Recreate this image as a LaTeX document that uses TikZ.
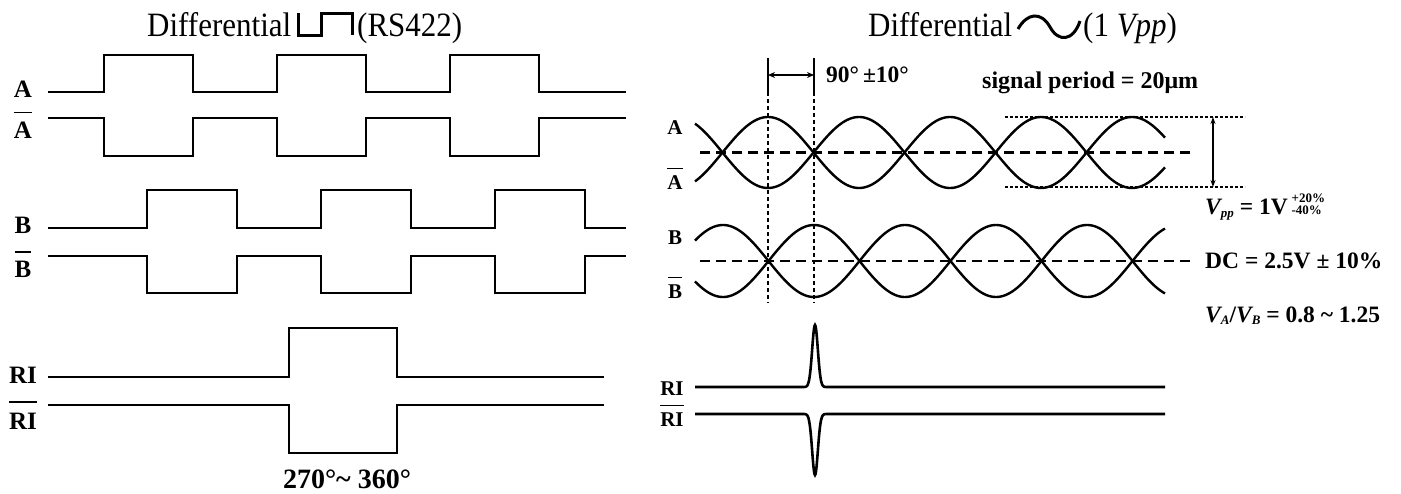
\documentclass[tikz,border=0pt]{standalone}
\usepackage{fontspec}
\setmainfont{Liberation Serif}
\usetikzlibrary{arrows.meta}
\newcommand\myfs[1]{\fontsize{#1}{#1}\selectfont}
\newcommand\ovl[2][8pt]{\vbox{\hrule height 1.6pt\kern#1\hbox{#2}}}
\begin{document}
\begin{tikzpicture}[x=1pt,y=-1pt,
  wave/.style={line width=2.7pt, line join=miter},
  sine/.style={line width=2.4pt},
  lbl/.style={font=\myfs{25}\bfseries, anchor=base, inner sep=0pt},
  rlbl/.style={font=\myfs{21}\bfseries, anchor=base, inner sep=0pt},
  ann/.style={font=\myfs{23.5}\bfseries, anchor=base west, inner sep=0pt},
  ttl/.style={font=\myfs{31}, anchor=base west, inner sep=0pt},
  midd/.style={line width=2.2pt, dash pattern=on 10pt off 6pt},
  hdots/.style={line width=2pt, dash pattern=on 2.5pt off 2.5pt},
  vdots/.style={line width=1.8pt, dash pattern=on 4pt off 3pt},
  thin/.style={line width=1.3pt},
  dim/.style={line width=1.5pt, {Stealth[length=7pt,width=6pt]}-{Stealth[length=7pt,width=6pt]}},
  ]
\useasboundingbox (0,0) rectangle (1401,493);
% ---------- titles ----------
\node[ttl] (tl1) at (147,36) {\scalebox{1}[1.1]{Differential}};
\draw[line width=3pt] (298,13) -- (298,35) -- (321,35) -- (321,13) -- (352,13) -- (352,35);
\node[ttl] (tl2) at (357,36) {\scalebox{1}[1.1]{(RS422)}};
\node[ttl] (tr1) at (868,36) {\scalebox{1}[1.1]{Differential}};
\draw[line width=3pt] (1018,29) .. controls (1027,13) and (1041,11) .. (1050,27)
  .. controls (1058,42) and (1073,42) .. (1080,21);
\node[ttl] (tr2) at (1083,36) {\scalebox{1}[1.1]{(1 \textit{Vpp})}};
% ---------- left labels ----------
\node[lbl] (lA)  at (23,97)  {A};
\node[lbl] (lAb) at (23,138) {\ovl{A}};
\node[lbl] (lB)  at (23,233) {B};
\node[lbl] (lBb) at (23,277) {\ovl{B}};
\node[lbl] (lR)  at (23,383) {RI};
\node[lbl] (lRb) at (23,429) {\ovl[10pt]{RI}};
% ---------- left waveforms ----------
\draw[wave] (48,92) -| (104,55) -| (193,92) -| (277,55) -| (366,92) -| (450,55) -| (539,92) -- (626,92);
\draw[wave] (48,118) -| (104,156) -| (193,118) -| (277,156) -| (366,118) -| (450,156) -| (539,118) -- (626,118);
\draw[wave] (48,228) -| (147,190) -| (237,228) -| (321,190) -| (411,228) -| (495,190) -| (585,228) -- (626,228);
\draw[wave] (48,256) -| (147,293) -| (237,256) -| (321,293) -| (411,256) -| (495,293) -| (585,256) -- (626,256);
\draw[wave] (48,377) -| (289,328) -| (397,377) -- (604,377);
\draw[wave] (48,405) -| (289,453) -| (397,405) -- (604,405);
\node[font=\myfs{28}\bfseries, anchor=base, inner sep=0pt] (tdeg) at (347,488) {270°\textasciitilde{} 360°};
% ---------- right labels ----------
\node[rlbl] (rA)  at (675,134) {A};
\node[rlbl] (rAb) at (675,189) {\ovl[6pt]{A}};
\node[rlbl] (rB)  at (675,244) {B};
\node[rlbl] (rBb) at (675,298) {\ovl[6pt]{B}};
\node[rlbl] (rR)  at (672,395) {RI};
\node[rlbl] (rRb) at (672,426) {\ovl[6pt]{RI}};
% ---------- dimension lines ----------
\coordinate (v1t) at (768,58);
\coordinate (v1m) at (768,92);
\coordinate (v1b) at (768,303);
\coordinate (v2t) at (814,58);
\coordinate (v2m) at (814,92);
\coordinate (v2b) at (814,303);
\draw[thin] (v1t) -- (v1m);
\draw[thin] (v2t) -- (v2m);
\draw[vdots] (v1m) -- (v1b);
\draw[vdots] (v2m) -- (v2b);
\coordinate (d1) at (768,75);
\coordinate (d2) at (814,75);
\draw[dim] (d1) -- (d2);
\node[ann] (t90) at (826,82) {90°\,±10°};
\node[ann, font=\myfs{24}\bfseries] (tsp) at (982,88) {signal period = 20μm};
% dotted amplitude lines
\coordinate (h1a) at (1005,117);
\coordinate (h1b) at (1245,117);
\coordinate (h2a) at (1005,187);
\coordinate (h2b) at (1245,187);
\draw[hdots] (h1a) -- (h1b);
\draw[hdots] (h2a) -- (h2b);
\coordinate (va1) at (1213,117);
\coordinate (va2) at (1213,187);
\draw[line width=1.2pt, {Stealth[length=7pt,width=5pt]}-{Stealth[length=7pt,width=5pt]}] (va1) -- (va2);
% dashed mid lines
\coordinate (mA1) at (700,152.5);
\coordinate (mA2) at (1196,152.5);
\coordinate (mB1) at (700,261);
\coordinate (mB2) at (1196,261);
\draw[midd] (mA1) -- (mA2);
\draw[midd] (mB1) -- (mB2);
% ---------- sine waves ----------
\draw[sine] plot[domain=695:1165, samples=240, smooth] ({\x},{152.5-35.5*cos(180*((\x-768)/91))});
\draw[sine] plot[domain=695:1165, samples=240, smooth] ({\x},{152.5+35.5*cos(180*((\x-768)/91))});
\draw[sine] plot[domain=695:1165, samples=240, smooth] ({\x},{261-36*cos(180*((\x-723)/91))});
\draw[sine] plot[domain=695:1165, samples=240, smooth] ({\x},{261+36*cos(180*((\x-723)/91))});
% ---------- reference pulses ----------
\draw[wave, line width=2.6pt] (695,387) -- (802,387) -- plot[domain=802:828, samples=53, smooth] ({\x},{387-62*exp(-((\x-815)/4)*((\x-815)/4))}) -- (1165,387);
\draw[wave, line width=2.6pt] (695,414) -- (802,414) -- plot[domain=802:828, samples=53, smooth] ({\x},{414+61*exp(-((\x-815)/4)*((\x-815)/4))}) -- (1165,414);
% ---------- annotations ----------
\node[ann] (tvpp) at (1205,214) {{\itshape V}\raisebox{-3pt}{\myfs{13}\itshape pp} = 1V\,{\myfs{13}\vbox{\offinterlineskip\hbox{+20\%}\kern2.5pt\hbox{-40\%}}}};
\node[ann] (tdc) at (1205,268) {DC = 2.5V ± 10\%};
\node[ann] (tva) at (1205,322) {{\itshape V\raisebox{-2pt}{\myfs{13}A}}/{\itshape V\raisebox{-2pt}{\myfs{13}B}} = 0.8 \textasciitilde{} 1.25};
\end{tikzpicture}
\end{document}
